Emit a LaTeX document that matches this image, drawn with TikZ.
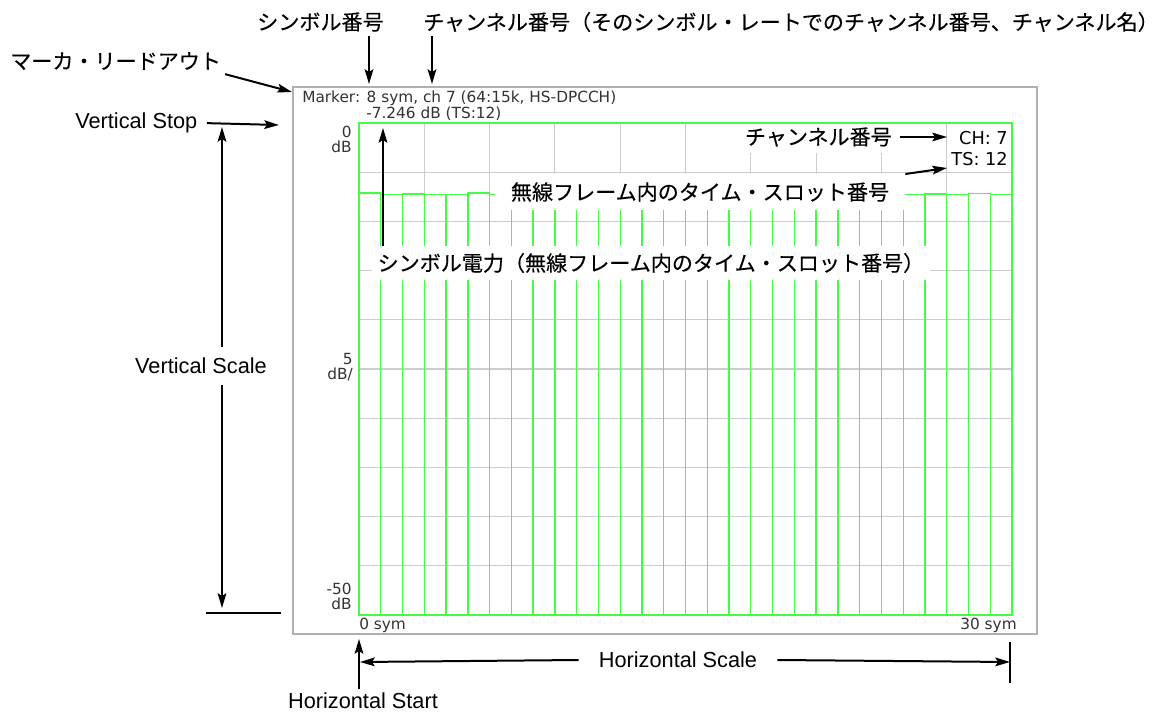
\documentclass[tikz,border=0pt]{standalone}
\usepackage{fontspec}
\setmainfont{Liberation Sans}
\newfontfamily\jpfont[FakeBold=0.3]{Noto Sans CJK JP}
\newfontfamily\scrfont{DejaVu Sans}
\usetikzlibrary{positioning, arrows.meta}
\definecolor{gridgray}{RGB}{205,205,205}
\definecolor{framegray}{RGB}{175,175,175}
\definecolor{trace}{RGB}{70,250,70}
\definecolor{scrtext}{RGB}{50,50,50}

\begin{document}
\begin{tikzpicture}[x=0.75pt, y=-0.75pt,
        lbl/.style={font=\fontsize{16.3}{19}\selectfont, inner sep=3pt},
        jlbl/.style={font=\jpfont\fontsize{15.8}{19}\selectfont, inner sep=3pt},
        scr/.style={font=\scrfont\fontsize{11.5}{11.25}\selectfont, text=scrtext, inner sep=0pt},
        arr/.style={line width=1.5pt, -{Stealth[length=11pt, width=6.5pt, inset=2pt]}},
        bar/.style={draw=trace, line width=1pt}]
    \useasboundingbox (0,0) rectangle (1157,713);
    % screen
    \draw[framegray, line width=1.1pt] (293,87) rectangle (1037,634);
    \foreach \k in {1,...,9} {
        \draw[gridgray, line width=0.8pt] ({359+\k*65.3},123) -- ({359+\k*65.3},615);
        \draw[gridgray, line width=0.8pt] (359,{123+\k*49.2}) -- (1012,{123+\k*49.2});
    }
    \foreach \lv [count=\i from 0] in {7.1,7.25,7.2,7.3,7.3,7.1,7.25,7.2,7.15,7.3,7.2,7.25,7.1,7.3,7.2,
            7.25,7.15,7.3,7.2,7.1,7.25,7.3,7.2,7.15,7.1,7.3,7.2,7.3,7.15,7.3}
        \draw[bar] ({359+\i*21.767},{123+\lv*9.84}) rectangle ({359+(\i+1)*21.767},615);

    \node[scr, anchor=base west] (mkrtxt) at (302,103) {Marker: 8 sym, ch 7 (64:15k, HS-DPCCH)};
    \node[scr, anchor=base west] (mkrval) at (366,119) {-7.246 dB (TS:12)};
    \node[scr, align=right, anchor=north east] (top0) at (352,126) {0\\dB};
    \node[scr, align=right, anchor=north east] (mid5) at (353,353) {5\\dB/};
    \node[scr, align=right, anchor=north east] (bot50) at (352,583) {-50\\dB};
    \node[scr, anchor=base west] (sym0) at (359,629) {0 sym};
    \node[scr, anchor=base east] (sym30) at (1017,629) {30 sym};
    \node[scr, font=\scrfont\fontsize{13.3}{15.75}\selectfont, text=black, align=right, fill=white,
        anchor=north east, inner sep=3pt] (chts) at (1012,127) {CH: 7\\TS: 12};

    \node[jlbl, fill=white, anchor=west, inner xsep=2pt, inner ysep=5pt] (chin) at (742,137) {チャンネル番号};
    \node[jlbl, fill=white, inner xsep=12pt, inner ysep=6pt] (tsno) at (700,192) {無線フレーム内のタイム・スロット番号};
    \node[jlbl, fill=white, anchor=west, inner xsep=4pt, inner ysep=5pt] (pwr) at (372,263)
        {シンボル電力（無線フレーム内のタイム・スロット番号）};
    \draw[trace, line width=1.8pt] (359,123) rectangle (1012,615);

    % callouts
    \node[jlbl, anchor=west] (symno) at (253,22) {シンボル番号};
    \node[jlbl, anchor=west] (chno) at (419,22) {チャンネル番号（そのシンボル・レートでのチャンネル番号、チャンネル名）};
    \node[jlbl, anchor=west] (mkr) at (6,61) {マーカ・リードアウト};
    \node[lbl, anchor=west] (vstop) at (71,123) {Vertical Stop};
    \node[lbl, inner ysep=8pt] (vscale) at (201,366) {Vertical Scale};
    \node[lbl] (hstart) at (363,701) {Horizontal Start};
    \node[lbl, inner xsep=15pt] (hscale) at (678,660) {Horizontal Scale};

    \coordinate (smk) at (369,84);
    \coordinate (cmk) at (432,84);
    \coordinate (mkrtip) at (292,92);
    \coordinate (vstoptip) at (279,125);
    \coordinate (vtop) at (222,127);
    \coordinate (vbot) at (222,608);
    \coordinate (vbl) at (206,613);
    \coordinate (vbr) at (281,613);
    \coordinate (hs) at (359,639);
    \coordinate (hleft) at (360,662);
    \coordinate (hright) at (1010,662);
    \coordinate (hbt) at (1010,642);
    \coordinate (hbb) at (1010,683);
    \coordinate (pk) at (383,128);
    \coordinate (chtip) at (947,137);
    \coordinate (tstip) at (947,168);

    \draw[arr] (symno.south -| smk) -- (smk);
    \draw[arr] (chno.south -| cmk) -- (cmk);
    \draw[arr] (mkr.south east) -- (mkrtip);
    \draw[arr, shorten <=4pt] (vstop.east) -- (vstoptip);
    \draw[arr] (vscale.north -| vtop) -- (vtop);
    \draw[arr] (vscale.south -| vbot) -- (vbot);
    \draw[line width=1.5pt] (vbl) -- (vbr);
    \draw[arr] (hstart.north -| hs) -- (hs);
    \draw[arr] (hscale.west) -- (hleft);
    \draw[arr] (hscale.east) -- (hright);
    \draw[line width=1.5pt] (hbt) -- (hbb);
    \draw[arr] (pwr.north -| pk) -- (pk);
    \draw[arr, shorten <=4pt] (chin.east) -- (chtip);
    \draw[arr] (tsno.north east) -- (tstip);
\end{tikzpicture}
\end{document}
